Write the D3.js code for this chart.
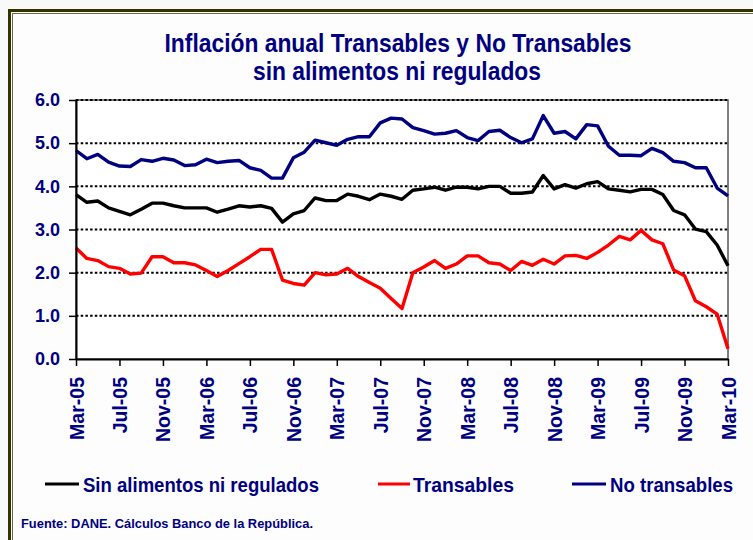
<!DOCTYPE html>
<html>
<head>
<meta charset="utf-8">
<script src="https://cdn.jsdelivr.net/npm/d3@7"></script>
<style>
  body { margin: 0; background: #f9f9f9; }
  svg { display: block; }
  text { font-family: "Liberation Sans", Arial, sans-serif; font-weight: bold; fill: #000080; }
</style>
</head>
<body>
<svg id="chart" width="753" height="540"></svg>
<script>
// monthly categories Mar-05 .. Mar-10
var months = d3.timeMonth.range(new Date(2005, 2, 1), new Date(2010, 3, 1));
var tickLabels = ["Mar-05", "Jul-05", "Nov-05", "Mar-06", "Jul-06", "Nov-06", "Mar-07", "Jul-07",
                  "Nov-07", "Mar-08", "Jul-08", "Nov-08", "Mar-09", "Jul-09", "Nov-09", "Mar-10"];
var yTicks = [0, 1, 2, 3, 4, 5, 6];

var sinAlimentos = [3.81, 3.63, 3.66, 3.50, 3.42, 3.34, 3.47, 3.61, 3.61, 3.55,
                    3.50, 3.50, 3.50, 3.40, 3.47, 3.55, 3.52, 3.55, 3.49, 3.17,
                    3.36, 3.44, 3.73, 3.67, 3.67, 3.82, 3.77, 3.69, 3.82, 3.77,
                    3.70, 3.91, 3.94, 3.98, 3.91, 3.98, 3.98, 3.94, 4.00, 4.00,
                    3.84, 3.84, 3.87, 4.25, 3.94, 4.04, 3.96, 4.06, 4.11, 3.94,
                    3.91, 3.87, 3.93, 3.93, 3.81, 3.44, 3.34, 3.01, 2.95, 2.64,
                    2.16];
var transables = [2.57, 2.33, 2.28, 2.14, 2.10, 1.97, 1.99, 2.37, 2.37, 2.23,
                  2.23, 2.18, 2.05, 1.91, 2.05, 2.21, 2.37, 2.54, 2.54, 1.83,
                  1.75, 1.71, 2.00, 1.95, 1.97, 2.10, 1.91, 1.77, 1.64, 1.40,
                  1.17, 2.00, 2.13, 2.28, 2.10, 2.20, 2.39, 2.39, 2.23, 2.20,
                  2.05, 2.26, 2.17, 2.31, 2.20, 2.39, 2.40, 2.33, 2.47, 2.64,
                  2.84, 2.76, 2.98, 2.76, 2.67, 2.06, 1.93, 1.35, 1.21, 1.04,
                  0.24];
var noTransables = [4.83, 4.64, 4.74, 4.56, 4.47, 4.46, 4.62, 4.58, 4.65, 4.61,
                    4.48, 4.50, 4.63, 4.55, 4.58, 4.60, 4.43, 4.37, 4.19, 4.19,
                    4.66, 4.79, 5.07, 5.01, 4.95, 5.09, 5.15, 5.15, 5.47, 5.58,
                    5.56, 5.36, 5.29, 5.21, 5.23, 5.29, 5.13, 5.06, 5.27, 5.30,
                    5.13, 5.01, 5.10, 5.64, 5.23, 5.27, 5.10, 5.43, 5.40, 4.93,
                    4.72, 4.72, 4.71, 4.88, 4.78, 4.58, 4.55, 4.43, 4.43, 3.96,
                    3.78];

var series = [
  {name: "Sin alimentos ni regulados", values: sinAlimentos, color: "#000000"},
  {name: "Transables", values: transables, color: "#ff0000"},
  {name: "No transables", values: noTransables, color: "#000080"}
];

var svg = d3.select("#chart");

// slide frame
svg.append("rect").attr("x", 11).attr("y", 12).attr("width", 800).attr("height", 600)
  .attr("fill", "#fdfdfd");
svg.append("rect").attr("x", 9.5).attr("y", 10.5).attr("width", 800).attr("height", 600)
  .attr("fill", "none").attr("stroke", "#333300").attr("stroke-width", 3);
svg.append("rect").attr("x", 12.5).attr("y", 13.5).attr("width", 800).attr("height", 600)
  .attr("fill", "none").attr("stroke", "#6b6b40").attr("stroke-width", 1);

var plotLeft = 76, plotRight = 728, plotTop = 100, plotBottom = 359;

var x = d3.scalePoint().domain(d3.range(months.length)).range([plotLeft, plotRight]);
var y = d3.scaleLinear().domain([0, 6]).range([plotBottom, plotTop]);

// title
svg.append("text").attr("x", 398).attr("y", 52).attr("text-anchor", "middle")
  .style("font-size", "25px").attr("textLength", 467).attr("lengthAdjust", "spacingAndGlyphs")
  .text("Inflación anual Transables y No Transables");
svg.append("text").attr("x", 397).attr("y", 80).attr("text-anchor", "middle")
  .style("font-size", "25px").attr("textLength", 288).attr("lengthAdjust", "spacingAndGlyphs")
  .text("sin alimentos ni regulados");

// plot area
svg.append("rect").attr("x", plotLeft).attr("y", plotTop)
  .attr("width", plotRight - plotLeft).attr("height", plotBottom - plotTop)
  .attr("fill", "#ffffff").attr("stroke", "#555").attr("stroke-width", 1.5);

// dotted gridlines
svg.append("g").selectAll("line").data(yTicks.filter(function(d) { return d > 0; }))
  .join("line")
  .attr("x1", plotLeft).attr("x2", plotRight)
  .attr("y1", function(d) { return y(d); }).attr("y2", function(d) { return y(d); })
  .attr("stroke", "#000").attr("stroke-width", 2).attr("stroke-dasharray", "2.5,2.2");

// lines
var line = d3.line()
  .x(function(d, i) { return x(i); })
  .y(function(d) { return y(d); });

series.forEach(function(s) {
  svg.append("path")
    .datum(s.values)
    .attr("fill", "none")
    .attr("stroke", s.color)
    .attr("stroke-width", 3.4)
    .attr("stroke-linejoin", "round")
    .attr("d", line);
});

// y axis
var yAxis = svg.append("g").attr("transform", "translate(" + plotLeft + ",0)")
  .call(d3.axisLeft(y).tickValues(yTicks).tickFormat(d3.format(".1f")).tickSize(7).tickSizeOuter(0));
yAxis.select(".domain").attr("stroke", "#000").attr("stroke-width", 2);
yAxis.selectAll(".tick line").attr("stroke", "#000").attr("stroke-width", 1.5);
yAxis.selectAll(".tick text").attr("x", -16).style("font-size", "18px")
  .style("font-family", "\"Liberation Sans\", Arial, sans-serif").attr("fill", "#000080");

// x axis
var tickIdx = d3.range(0, months.length, 4);
var xAxis = svg.append("g").attr("transform", "translate(0," + plotBottom + ")")
  .call(d3.axisBottom(x).tickValues(tickIdx)
    .tickFormat(function(d) { return tickLabels[d / 4]; })
    .tickSize(7).tickSizeOuter(0));
xAxis.select(".domain").attr("stroke", "#000").attr("stroke-width", 2);
xAxis.selectAll(".tick line").attr("stroke", "#000").attr("stroke-width", 1.5);
xAxis.selectAll(".tick text")
  .attr("transform", "rotate(-90)")
  .attr("text-anchor", "end")
  .attr("x", -18).attr("y", 0).attr("dy", "0.36em")
  .style("font-size", "19.5px")
  .style("font-family", "\"Liberation Sans\", Arial, sans-serif").attr("fill", "#000080");

// legend
var legend = [
  {x1: 45, x2: 79, tx: 83, tl: 236},
  {x1: 378, x2: 410, tx: 413, tl: 101},
  {x1: 572, x2: 606, tx: 610, tl: 123}
];
series.forEach(function(s, i) {
  var L = legend[i];
  svg.append("line").attr("x1", L.x1).attr("x2", L.x2).attr("y1", 484).attr("y2", 484)
    .attr("stroke", s.color).attr("stroke-width", 3);
  svg.append("text").attr("x", L.tx).attr("y", 492)
    .style("font-size", "21px").attr("textLength", L.tl).attr("lengthAdjust", "spacingAndGlyphs")
    .text(s.name);
});

// source
svg.append("text").attr("x", 21).attr("y", 528)
  .style("font-size", "13.5px").attr("textLength", 292).attr("lengthAdjust", "spacingAndGlyphs")
  .text("Fuente: DANE. Cálculos Banco de la República.");
</script>
</body>
</html>
